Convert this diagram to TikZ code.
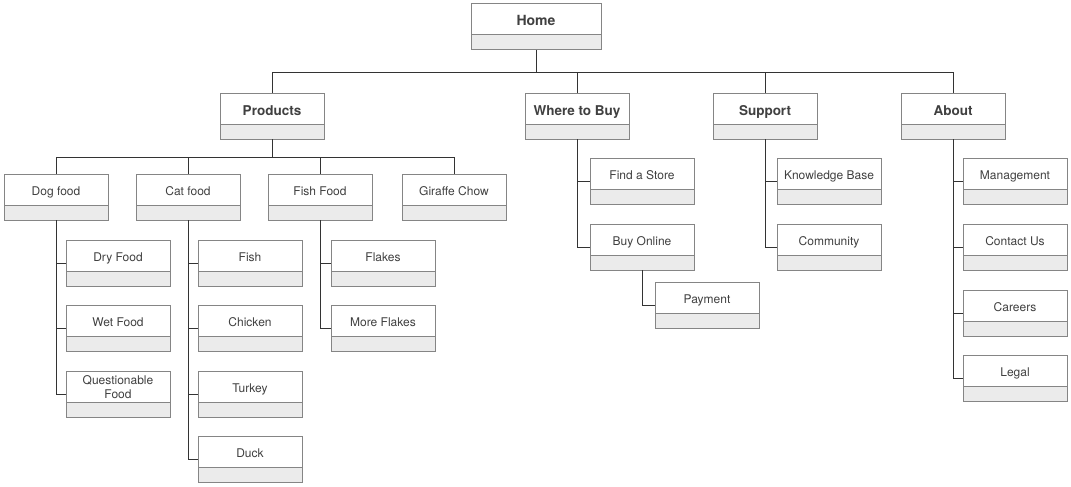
\documentclass[tikz,border=0pt]{standalone}
\usepackage{fontspec}
\setmainfont{TeX Gyre Heros}
\usepackage{tikz}
\usetikzlibrary{calc}
\definecolor{sitemapink}{HTML}{404040}
\definecolor{sitemapline}{HTML}{333333}
\definecolor{sitemapedge}{HTML}{858585}
\definecolor{sitemapband}{HTML}{EBEBEB}
\begin{document}
\begin{tikzpicture}[x=1pt,y=-1pt,line cap=rect,line join=miter,
  text=sitemapink,
  card/.style={draw=sitemapedge,line width=1pt,fill=white,inner sep=0pt,
    minimum width=104pt,minimum height=46pt,text height=21pt,text depth=25pt,
    font=\fontsize{12}{14}\selectfont,
    path picture={\fill[sitemapband] ([yshift=15pt]path picture bounding box.south west)
      rectangle (path picture bounding box.south east);
      \draw[sitemapedge,line width=1pt] ([yshift=15pt]path picture bounding box.south west)
      -- ([yshift=15pt]path picture bounding box.south east);}},
  head/.style={card,text height=22pt,text depth=24pt,
    font=\fontsize{13.5}{16}\bfseries\selectfont},
  wire/.style={draw=sitemapline,line width=1pt}]
\path[use as bounding box] (0,0) rectangle (1071,487);
\fill[white] (0,0) rectangle (1071,487);
% top level
\node[head,minimum width=130pt,font=\fontsize{14}{16}\bfseries\selectfont] (home) at (536,27) {Home};
\node[head] (products) at (272,116) {Products};
\node[head] (where) at (577,116) {Where to Buy};
\node[head] (support) at (765,116) {Support};
\node[head] (about) at (953,116) {About};
% products
\node[card] (dog) at (56,197) {Dog food};
\node[card] (cat) at (188,197) {Cat food};
\node[card] (fishfood) at (320,197) {Fish Food};
\node[card] (giraffe) at (454,197) {Giraffe Chow};
\node[card] (dry) at (118,263) {Dry Food};
\node[card] (wet) at (118,328) {Wet Food};
\node[card,align=center,text height=27pt,text depth=19pt] (odd) at (118,394) {Questionable\\Food};
\node[card] (fish) at (250,263) {Fish};
\node[card] (chicken) at (250,328) {Chicken};
\node[card] (turkey) at (250,394) {Turkey};
\node[card] (duck) at (250,459) {Duck};
\node[card] (flakes) at (383,263) {Flakes};
\node[card] (moreflakes) at (383,328) {More Flakes};
% where to buy, support, about
\node[card] (store) at (642,181) {Find a Store};
\node[card] (online) at (642,247) {Buy Online};
\node[card] (payment) at (707,305) {Payment};
\node[card] (kbase) at (829,181) {Knowledge Base};
\node[card] (community) at (829,247) {Community};
\node[card] (mgmt) at (1015,181) {Management};
\node[card] (contact) at (1015,247) {Contact Us};
\node[card] (careers) at (1015,313) {Careers};
\node[card] (legal) at (1015,378) {Legal};
% connectors
\foreach \n in {products,where,support,about}
  \draw[wire] (home.south) -- ++(0,22) -| (\n.north);
\foreach \n in {dog,cat,fishfood,giraffe}
  \draw[wire] (products.south) -- ++(0,18) -| (\n.north);
\foreach \n in {dry,wet,odd}
  \draw[wire] (dog.south) |- (\n.west);
\foreach \n in {fish,chicken,turkey,duck}
  \draw[wire] (cat.south) |- (\n.west);
\foreach \n in {flakes,moreflakes}
  \draw[wire] (fishfood.south) |- (\n.west);
\foreach \n in {store,online}
  \draw[wire] (where.south) |- (\n.west);
\draw[wire] (online.south) |- (payment.west);
\foreach \n in {kbase,community}
  \draw[wire] (support.south) |- (\n.west);
\foreach \n in {mgmt,contact,careers,legal}
  \draw[wire] (about.south) |- (\n.west);
\end{tikzpicture}
\end{document}
